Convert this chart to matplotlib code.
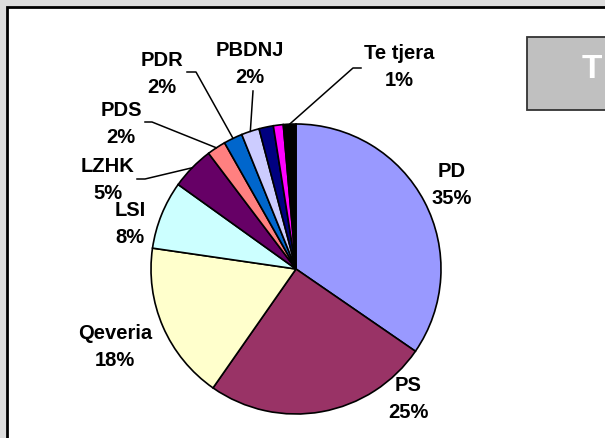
import numpy as np
import matplotlib
matplotlib.use("Agg")
import matplotlib.pyplot as plt
from matplotlib.patches import Rectangle

# ---- data ----
categories = ["PD", "PS", "Qeveria", "LSI", "LZHK", "PDS", "PDR", "PBDNJ", "", "", "Te tjera"]
values = [34.6, 25.1, 17.6, 7.6, 4.8, 2.1, 2.1, 2.0, 1.6, 1.1, 1.4]
pct_labels = ["35%", "25%", "18%", "8%", "5%", "2%", "2%", "2%", "", "", "1%"]
colors = ["#9999FF", "#993366", "#FFFFCC", "#CCFFFF", "#660066", "#FF8080",
          "#0066CC", "#CCCCFF", "#000080", "#FF00FF", "#000000"]
title_text = "T"

W, H = 605, 439
fig = plt.figure(figsize=(W / 100, H / 100), dpi=100)
fig.patch.set_facecolor("#DDDDDD")
ax = fig.add_axes([0, 0, 1, 1])

def Y(y):
    return H - y

# white panel with border
ax.add_patch(Rectangle((6.5, -20), 700, Y(7.5) + 20, facecolor="white",
                       edgecolor="black", linewidth=2.0, zorder=0))
# title box
ax.add_patch(Rectangle((527, Y(111)), 120, 73, facecolor="#C0C0C0",
                       edgecolor="#333333", linewidth=1.3, zorder=1))
ax.text(582, Y(70), title_text, color="white", fontsize=24, fontweight="bold",
        family="Liberation Sans", ha="left", va="center", zorder=2)

cx, cy, R = 296, Y(270), 145
wedges, _ = ax.pie(values, colors=colors, startangle=90, counterclock=False,
                   center=(cx, cy), radius=R, frame=True,
                   wedgeprops=dict(edgecolor="black", linewidth=1.2))
ax.set_xlim(0, W)
ax.set_ylim(0, H)
ax.set_aspect("equal")
ax.axis("off")

# label positions (text block centers) and leader elbows
label_pos = {
    "PD": (452, 185), "PS": (408, 399), "Qeveria": (115, 347), "LSI": (130, 224),
    "LZHK": (108, 180), "PDS": (121, 124), "PDR": (162, 74), "PBDNJ": (250, 64),
    "Te tjera": (399, 67),
}
leaders = {
    "LZHK": [(145, 180), (137, 180)],
    "PDS": [(152, 123), (145, 123)],
    "PDR": [(196, 73), (187, 73)],
    "PBDNJ": [(253, 92)],
    "Te tjera": [(353, 69), (361, 69)],
}

for w, cat, pl in zip(wedges, categories, pct_labels):
    if not cat:
        continue
    x, y = label_pos[cat]
    ax.text(x, Y(y), f"{cat}\n{pl}", ha="center", va="center", fontsize=14.5,
            fontweight="bold", family="Liberation Sans", linespacing=1.5, zorder=5)
    if cat in leaders:
        mid = np.deg2rad((w.theta1 + w.theta2) / 2)
        px, py = cx + R * np.cos(mid), cy + R * np.sin(mid)
        xs = [px] + [p[0] for p in leaders[cat]]
        ys = [py] + [Y(p[1]) for p in leaders[cat]]
        ax.plot(xs, ys, color="black", linewidth=1.1, zorder=4)

fig.savefig("out.png", dpi=100, facecolor=fig.get_facecolor())
